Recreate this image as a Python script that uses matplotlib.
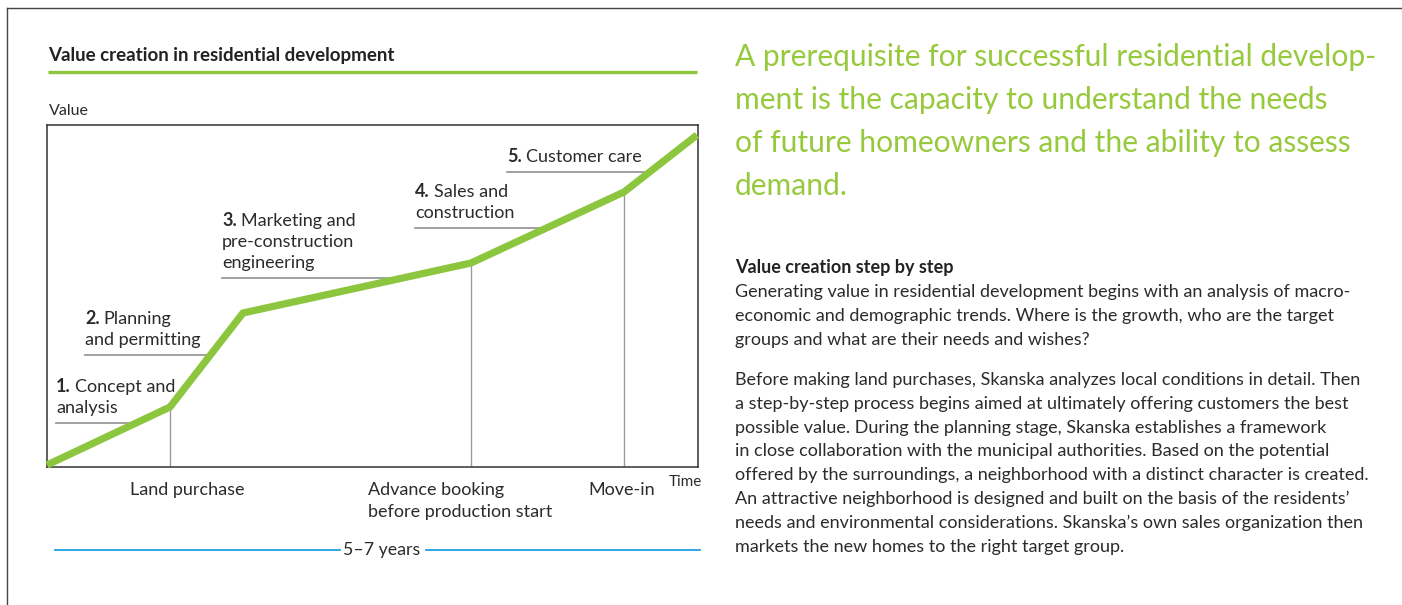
import numpy as np
import matplotlib.pyplot as plt
from matplotlib.lines import Line2D

W, H = 1402, 605
GREEN = "#8cc63e"
TEXT_GREEN = "#97c93d"
BLUE = "#1ea0e0"
GREY = "#9a9a9a"
DARK = "#2b2b2b"

# value curve, chart units (x = time, y = value)
time_pts = [0, 123, 196, 424, 577, 650]
value_pts = [2, 60, 154, 204, 275, 332]

# stages along the curve
stage_nums = ["1.", "2.", "3.", "4.", "5."]
stage_lines = [["Concept and", "analysis"],
               ["Planning", "and permitting"],
               ["Marketing and", "pre-construction", "engineering"],
               ["Sales and", "construction"],
               ["Customer care"]]
stage_x = [9, 38, 175, 368, 460]
stage_y = [44, 112, 189, 239, 295]

# milestones on the time axis
milestone_x = [123, 424, 577]
milestone_labels = [["Land purchase"], ["Advance booking", "before production start"], ["Move-in"]]

heading = ["A prerequisite for successful residential develop-",
           "ment is the capacity to understand the needs",
           "of future homeowners and the ability to assess",
           "demand."]
para1 = ["Generating value in residential development begins with an analysis of macro-",
         "economic and demographic trends. Where is the growth, who are the target",
         "groups and what are their needs and wishes?"]
para2 = ["Before making land purchases, Skanska analyzes local conditions in detail. Then",
         "a step-by-step process begins aimed at ultimately offering customers the best",
         "possible value. During the planning stage, Skanska establishes a framework",
         "in close collaboration with the municipal authorities. Based on the potential",
         "offered by the surroundings, a neighborhood with a distinct character is created.",
         "An attractive neighborhood is designed and built on the basis of the residents\u2019",
         "needs and environmental considerations. Skanska\u2019s own sales organization then",
         "markets the new homes to the right target group."]

plt.rcParams['font.family'] = ['Lato', 'DejaVu Sans']

fig = plt.figure(figsize=(W / 100, H / 100), dpi=100)
fig.patch.set_facecolor("white")


def fx(x):
    return x / W


def fy(y):
    return 1 - y / H


def ftext(x, y, s, **kw):
    kw.setdefault("color", DARK)
    return fig.text(fx(x), fy(y), s, **kw)


def fline(x0, x1, y0, y1, **kw):
    fig.add_artist(Line2D([fx(x0), fx(x1)], [fy(y0), fy(y1)], transform=fig.transFigure, **kw))


# page frame
fline(7, W, 8, 8, color="#444444", lw=1)
fline(7, 7, 8, H, color="#444444", lw=1)

# chart title
ftext(48, 61, "Value creation in residential development", fontsize=13.5, fontweight="bold",
      color="#222222", va="baseline")
fline(48, 697, 72, 72, color=GREEN, lw=2.4, solid_capstyle="butt")
ftext(49, 115, "Value", fontsize=11.5, va="baseline")

# chart axes
ax = fig.add_axes([fx(47), fy(467), 651 / W, 342 / H])
ax.set_xlim(0, 651)
ax.set_ylim(0, 342)
ax.set_xticks([])
ax.set_yticks([])
for sp in ax.spines.values():
    sp.set_color("#333333")
    sp.set_linewidth(1.1)

for mx in milestone_x:
    ax.plot([mx, mx], [0, np.interp(mx, time_pts, value_pts)], color=GREY, lw=1.0, zorder=1)

for x0, y0 in zip(stage_x, stage_y):
    x1 = np.interp(y0, value_pts, time_pts)
    ax.plot([x0, x1], [y0, y0], color=GREY, lw=1.3, zorder=1)

ax.plot(time_pts, value_pts, color=GREEN, lw=5.2, solid_capstyle="butt",
        solid_joinstyle="miter", zorder=3, clip_on=False)

renderer = fig.canvas.get_renderer()
LS = 21  # px between label lines
FS = 13
for num, lines, x0, y0 in zip(stage_nums, stage_lines, stage_x, stage_y):
    n = len(lines)
    for i, line in enumerate(lines):
        dy = (10 + (n - 1 - i) * LS) * 0.72
        if i == 0:
            t = ax.annotate(num, (x0, y0), xytext=(0, dy), textcoords="offset points",
                            fontsize=FS, fontweight="bold", va="baseline", color=DARK)
            w = t.get_window_extent(renderer).width
            ax.annotate(line, (x0, y0), xytext=((w + 4) * 0.72, dy), textcoords="offset points",
                        fontsize=FS, va="baseline", color=DARK)
        else:
            ax.annotate(line, (x0, y0), xytext=(0, dy), textcoords="offset points",
                        fontsize=FS, va="baseline", color=DARK)

# milestone labels below the axis
label_pos = [(187, "center"), (368, "left"), (622, "center")]
for lines, (lx, ha) in zip(milestone_labels, label_pos):
    for i, s in enumerate(lines):
        ftext(lx, 495 + i * 22, s, fontsize=FS, ha=ha, va="baseline")
ftext(685, 486, "Time", fontsize=11, ha="center", va="baseline")

# 5-7 years bar
fline(55, 340, 550, 550, color=BLUE, lw=1.3)
fline(426, 700, 550, 550, color=BLUE, lw=1.3)
ftext(382, 555, "5\u20137 years", fontsize=12.8, ha="center", va="baseline")

# right column
for i, s in enumerate(heading):
    ftext(735, 66 + i * 43, s, fontsize=21.6, color=TEXT_GREEN, va="baseline")

ftext(735, 273, "Value creation step by step", fontsize=13, fontweight="bold", va="baseline", color="#222222")
for i, s in enumerate(para1):
    ftext(735, 297 + i * 23.8, s, fontsize=13, va="baseline")
for i, s in enumerate(para2):
    ftext(735, 385 + i * 23.8, s, fontsize=13, va="baseline")

fig.savefig("out.png", dpi=100)
